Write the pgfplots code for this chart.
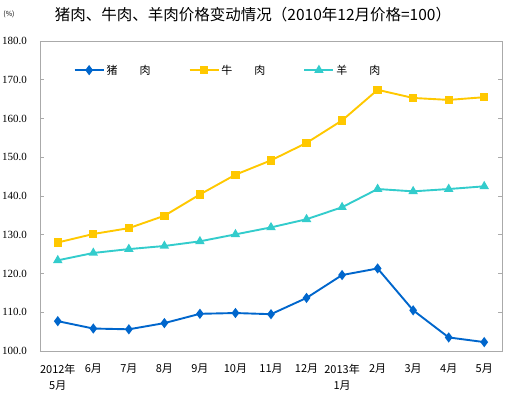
\documentclass[border=0pt]{standalone}
\usepackage{fontspec}
\setmainfont{Noto Sans CJK SC}
\newfontfamily\numfont{Liberation Serif}
\usepackage{pgfplots}
\pgfplotsset{compat=1.18}
\definecolor{pork}{RGB}{0,102,204}
\definecolor{beef}{RGB}{255,200,0}
\definecolor{mutton}{RGB}{51,204,204}
\definecolor{axgray}{RGB}{170,170,170}
\begin{document}
\begin{tikzpicture}
\path[use as bounding box] (-40pt,-43pt) rectangle (465pt,351pt);
\begin{axis}[at={(0pt,0pt)}, anchor=south west, scale only axis,
  width=462pt, height=310pt,
  xmin=-0.5, xmax=12.5, ymin=100, ymax=180,
  ytick={100,110,...,180},
  xtick={0,...,12},
  xticklabels={{2012年\\5月},6月,7月,8月,9月,10月,11月,12月,{2013年\\1月},2月,3月,4月,5月},
  xticklabel style={align=center, font=\fontsize{11}{16}\selectfont, inner sep=0pt, yshift=-13pt},
  yticklabel style={font=\numfont\fontsize{11}{12}\selectfont, inner sep=0pt, xshift=-13pt},
  /pgf/number format/assume math mode=true,
  yticklabel={\pgfmathprintnumber[fixed,fixed zerofill,precision=1]{\tick}},
  xtick style={draw=none},
  ytick style={axgray, line width=0.8pt},
  tick align=inside, major tick length=4pt,
  axis line style={axgray, line width=0.8pt},
  legend style={at={(0.066,0.906)}, anchor=west, draw=none, fill=none,
    font=\fontsize{11}{13}\selectfont, legend columns=3,
    /tikz/every even column/.append style={column sep=36pt}},
  legend image code/.code={\draw[mark repeat=2,mark phase=2] plot coordinates {(0pt,0pt) (14.5pt,0pt) (29pt,0pt)};},
  every axis plot/.append style={line width=1.9pt},
]
\addplot[pork, mark=diamond*, mark size=3.6pt] coordinates {
(0,107.7) (1,105.8) (2,105.6) (3,107.2) (4,109.6) (5,109.8) (6,109.5) (7,113.7) (8,119.6) (9,121.3) (10,110.5) (11,103.5) (12,102.3)};
\addlegendentry{猪　　肉}
\addplot[beef, mark=square*, mark size=3.2pt] coordinates {
(0,128.0) (1,130.2) (2,131.7) (3,134.9) (4,140.4) (5,145.5) (6,149.2) (7,153.7) (8,159.5) (9,167.4) (10,165.3) (11,164.8) (12,165.5)};
\addlegendentry{牛　　肉}
\addplot[mutton, mark=triangle*, mark size=3.6pt] coordinates {
(0,123.4) (1,125.3) (2,126.3) (3,127.1) (4,128.3) (5,130.1) (6,131.9) (7,134.0) (8,137.1) (9,141.8) (10,141.2) (11,141.8) (12,142.5)};
\addlegendentry{羊　　肉}
\end{axis}
\node[font=\fontsize{15.5}{18}\selectfont] at (213pt,336pt) {猪肉、牛肉、羊肉价格变动情况（2010年12月价格=100）};
\node[font=\fontsize{7}{8}\selectfont] at (-31pt,337pt) {(\%)};
\end{tikzpicture}
\end{document}
